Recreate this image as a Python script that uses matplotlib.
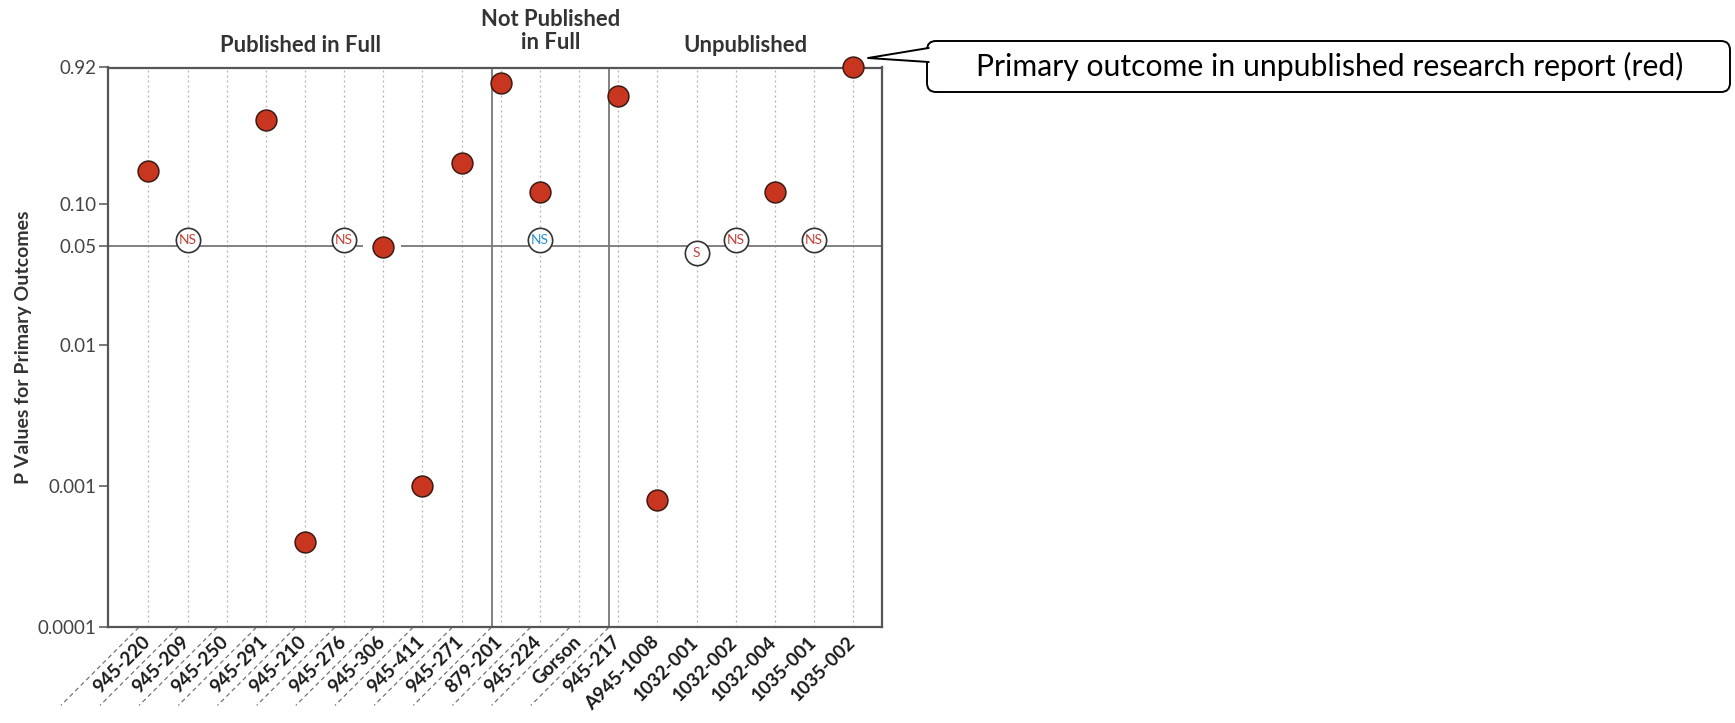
import numpy as np
import matplotlib
matplotlib.use("Agg")
import matplotlib.pyplot as plt
from matplotlib.lines import Line2D
from matplotlib.patches import FancyBboxPatch, Polygon
from matplotlib.transforms import IdentityTransform, offset_copy

plt.rcParams['font.family'] = ['Lato', 'DejaVu Sans']

# study identifiers, in the order they appear along the x axis
studies = ['945-220', '945-209', '945-250', '945-291', '945-210', '945-276',
           '945-306', '945-411', '945-271', '879-201', '945-224', 'Gorson',
           '945-217', 'A945-1008', '1032-001', '1032-002', '1032-004',
           '1035-001', '1035-002']

# p value of the primary outcome in the unpublished research report
p_report = [0.17, np.nan, np.nan, 0.39, 0.0004, np.nan, 0.049, 0.001, 0.195,
            0.71, 0.12, np.nan, 0.575, 0.0008, np.nan, np.nan, 0.12, np.nan,
            0.92]

# published result: significant (S) / not significant (NS)
pub_flag = ['', 'NS', '', '', '', 'NS', '', '', '', '', 'NS', '', '', '',
            'S', 'NS', '', 'NS', '']
pub_p = [np.nan, 0.055, np.nan, np.nan, np.nan, 0.055, np.nan, np.nan, np.nan,
         np.nan, 0.055, np.nan, np.nan, np.nan, 0.0445, 0.055, np.nan, 0.055,
         np.nan]
pub_color = ['', 'r', '', '', '', 'r', '', '', '', '', 'b', '', '', '',
             'r', 'r', '', 'r', '']

group_names = ['Published in Full', 'Not Published\nin Full', 'Unpublished']
group_sizes = [9, 3, 7]

yticks = [0.0001, 0.001, 0.01, 0.05, 0.10, 0.92]
ytick_labels = ['0.0001', '0.001', '0.01', '0.05', '0.10', '0.92']

W, H = 1735, 723
RED = '#c8361f'
GRID = '#777777'

fig = plt.figure(figsize=(W / 100, H / 100), dpi=100)
ax = fig.add_axes([108.4 / W, 1 - 627.4 / H, (881.7 - 108.4) / W, (627.4 - 67.5) / H])

x = np.arange(len(studies))
ax.set_yscale('log')
ax.set_ylim(0.0001, 0.92)
ax.set_xlim(-1.02, len(studies) - 1 + 0.725)

# dotted column guides
for xi in x:
    ax.axvline(xi, color='#b0b0b0', lw=0.9, ls=(0, (1.5, 2.5)), zorder=1)

# group separators
bounds = np.cumsum(group_sizes)[:-1] - 1 + 0.77
for b in bounds:
    ax.axvline(b, color=GRID, lw=1.3, zorder=2)

# 0.05 reference line, broken around 945-306
x0, x1 = ax.get_xlim()
ax.hlines(0.05, x0, 5.48, color=GRID, lw=1.3, zorder=2)
ax.hlines(0.05, 6.45, x1, color=GRID, lw=1.3, zorder=2)

# unpublished report p values
ax.plot(x, p_report, 'o', ms=15, mfc=RED, mec='#3b1b14', mew=1.1,
        ls='none', zorder=5, clip_on=False)

# published NS / S markers
cmap = {'r': '#c0443a', 'b': '#2a93cc'}
for xi, f, p, c in zip(x, pub_flag, pub_p, pub_color):
    if not f:
        continue
    ax.plot(xi, p, 'o', ms=17.5, mfc='white', mec='#333333', mew=1.2, zorder=5)
    ax.text(xi, p, f, ha='center', va='center', fontsize=10, color=cmap[c],
            zorder=6)

ax.set_yticks(yticks)
ax.set_yticklabels(ytick_labels)
ax.yaxis.set_minor_locator(matplotlib.ticker.NullLocator())
ax.tick_params(axis='y', length=6.5, width=1.1, color='#555555',
               labelsize=13.5, labelcolor='#444444', pad=2)
ax.set_xticks([])
for s in ax.spines.values():
    s.set_color('#555555')
    s.set_linewidth(1.6)

ax.set_ylabel('P Values for Primary Outcomes', fontsize=14, fontweight='bold',
              color='#333333')
ax.yaxis.set_label_coords(-0.099, 0.5)

# rotated study labels with dashed leader lines
base = ax.get_xaxis_transform()
n_lead = sum(group_sizes[:2]) + 1
for xi, name in zip(x, studies):
    tr = offset_copy(base, fig=fig, x=-1, y=-11.5, units='dots')
    ax.text(xi, 0, name, transform=tr, rotation=45, rotation_mode='anchor',
            ha='right', va='center', fontsize=13.5, fontweight='bold',
            color='#1a1a1a')
    if xi < n_lead:
        px = ax.transData.transform((xi, 1))[0] - 9.5
        py = ax.transAxes.transform((0, 0))[1]
        fig.add_artist(Line2D([px, px - 78], [py, py - 78], lw=0.8,
                              color='#666666', ls=(0, (4, 3)),
                              transform=IdentityTransform()))

# group titles
edges = [x0] + list(bounds) + [x1]
for i, g in enumerate(group_names):
    cx = (edges[i] + edges[i + 1]) / 2
    ax.text(cx, 1.04 if '\n' not in g else 1.065, g, transform=base,
            ha='center', va='center', fontsize=15.8, fontweight='bold',
            color='#333333', linespacing=1.15)

# callout box
ident = IdentityTransform()
def px(xp, yp):
    return (xp, H - yp)

box = FancyBboxPatch(px(927, 92), 1730 - 927, 92 - 41,
                     boxstyle='round,pad=0,rounding_size=9',
                     fc='white', ec='black', lw=1.4, transform=ident)
fig.add_artist(box)
tip = [px(928.5, 48), px(868, 58), px(928.5, 62)]
fig.add_artist(Polygon(tip, closed=True, fc='white', ec='none',
                       transform=ident, zorder=3))
fig.add_artist(Line2D([tip[0][0], tip[1][0], tip[2][0]],
                      [tip[0][1], tip[1][1], tip[2][1]], color='black',
                      lw=1.4, transform=ident, zorder=4))
fig.text(1329.5 / W, 1 - 66.5 / H,
         'Primary outcome in unpublished research report (red)',
         ha='center', va='center', fontsize=21.7, color='black')

fig.savefig('out.png', dpi=100)
